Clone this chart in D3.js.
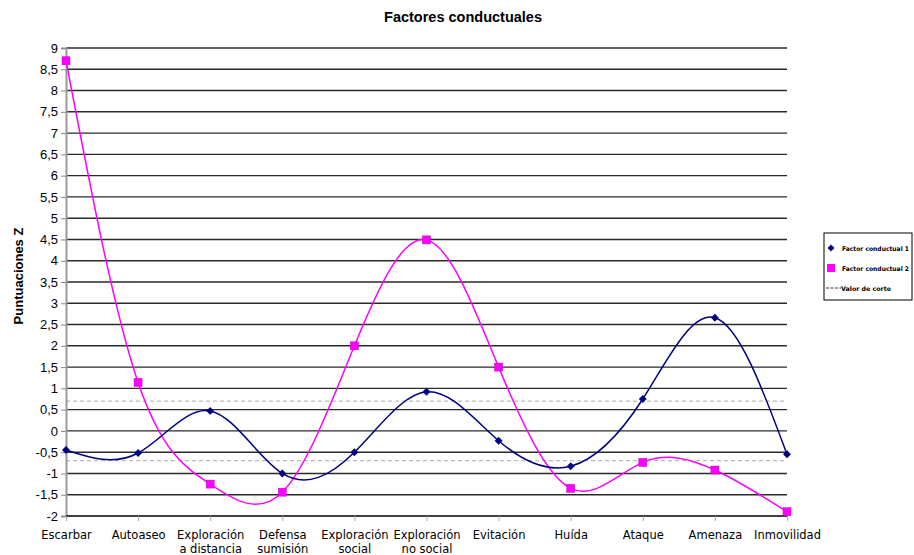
<!DOCTYPE html>
<html><head><meta charset="utf-8">
<script src="https://cdn.jsdelivr.net/npm/d3@7"></script>
<style>body{margin:0;background:#fff}svg{display:block}</style>
</head><body>
<svg id="c" width="914" height="555"></svg>
<script>
const categories = [["Escarbar"],["Autoaseo"],["Exploración","a distancia"],["Defensa","sumisión"],["Exploración","social"],["Exploración","no social"],["Evitación"],["Huída"],["Ataque"],["Amenaza"],["Inmovilidad"]];
const factor1 = [-0.45,-0.52,0.47,-1.0,-0.5,0.92,-0.23,-0.83,0.75,2.66,-0.55];
const factor2 = [8.7,1.14,-1.25,-1.44,2.0,4.49,1.5,-1.35,-0.74,-0.92,-1.9];
const cutoff = [0.7,-0.7];
const yTicks = d3.range(-2,9.01,0.5);
const seriesNames = ["Factor conductual 1","Factor conductual 2","Valor de corte"];

const svg = d3.select("#c");
const L=66,R=787,T=48,B=516;
const x = d3.scalePoint().domain(d3.range(categories.length)).range([L,R]);
const y = d3.scaleLinear().domain([-2,9]).range([B,T]);

// gridlines
svg.append("g").selectAll("line").data(yTicks.filter(v=>v>-2)).join("line")
  .attr("x1",L).attr("x2",R).attr("y1",d=>y(d)).attr("y2",d=>y(d))
  .attr("stroke","#2a2a2a").attr("stroke-width",1.4);
// cutoff
svg.append("g").selectAll("line").data(cutoff).join("line")
  .attr("x1",L).attr("x2",R).attr("y1",d=>y(d)).attr("y2",d=>y(d))
  .attr("stroke","#aaa").attr("stroke-width",1).attr("stroke-dasharray","4,3");

// y axis
const fmt = v => String(v).replace(".",",");
const ya = svg.append("g").attr("transform",`translate(${L},0)`)
  .call(d3.axisLeft(y).tickValues(yTicks).tickFormat(fmt).tickSize(5).tickPadding(3));
ya.select(".domain").attr("stroke","#999").attr("stroke-width",2);
ya.selectAll(".tick line").attr("stroke","#888");
ya.selectAll("text").attr("font-family","Liberation Sans, Arial").attr("font-size",13).attr("fill","#000");

// x axis
const xa = svg.append("g").attr("transform",`translate(0,${B})`)
  .call(d3.axisBottom(x).tickSize(5).tickFormat(""));
xa.select(".domain").attr("stroke","#000").attr("stroke-width",1.4).attr("d",`M${L},0H${R}`);
xa.selectAll(".tick line").attr("stroke","#aaa");
xa.selectAll(".tick").each(function(d){
  const t=d3.select(this).append("text").attr("fill","#000").attr("text-anchor","middle")
    .attr("font-family","DejaVu Sans").attr("font-size",11.5);
  categories[d].forEach((s,i)=>t.append("tspan").attr("x",0).attr("y",23+i*13.5).text(s));
});

// lines
const line = d3.line().x((d,i)=>x(i)).y(d=>y(d)).curve(d3.curveNatural);
svg.append("path").datum(factor2).attr("d",line).attr("fill","none").attr("stroke","#ff00ff").attr("stroke-width",1.5);
svg.append("path").datum(factor1).attr("d",line).attr("fill","none").attr("stroke","#000080").attr("stroke-width",1.5);

// markers
svg.append("g").selectAll("path").data(factor1).join("path")
  .attr("d",d3.symbol(d3.symbolDiamond2,40)())
  .attr("transform",(d,i)=>`translate(${x(i)},${y(d)})`).attr("fill","#000080");
svg.append("g").selectAll("rect").data(factor2).join("rect")
  .attr("x",(d,i)=>x(i)-4).attr("y",d=>y(d)-4).attr("width",8).attr("height",8)
  .attr("fill","#ff00ff").attr("stroke","#c000c0").attr("stroke-width",0.5);

// title
svg.append("text").attr("x",463).attr("y",22).attr("text-anchor","middle")
  .attr("font-family","Liberation Sans, Arial").attr("font-weight","bold").attr("font-size",14.5).text("Factores conductuales");
svg.append("text").attr("transform","translate(23,276) rotate(-90)").attr("text-anchor","middle")
  .attr("font-family","Liberation Sans, Arial").attr("font-weight","bold").attr("font-size",13).text("Puntuaciones Z");

// legend
const lg = svg.append("g");
lg.append("rect").attr("x",824).attr("y",233).attr("width",88).attr("height",67).attr("fill","#fff").attr("stroke","#000").attr("stroke-width",1);
lg.append("path").attr("d",d3.symbol(d3.symbolDiamond2,30)()).attr("transform","translate(831,248)").attr("fill","#000080");
lg.append("rect").attr("x",827).attr("y",264).attr("width",8).attr("height",8).attr("fill","#ff00ff");
lg.append("line").attr("x1",826).attr("x2",841).attr("y1",288).attr("y2",288).attr("stroke","#000").attr("stroke-width",0.8).attr("stroke-dasharray","3,1.5");
const ly=[248,268,288], lw=[67,67,50];
seriesNames.forEach((n,i)=>lg.append("text").attr("x",i==2?841:842).attr("y",ly[i]+2.5)
  .attr("font-family","DejaVu Sans").attr("font-size",6.4).attr("font-weight","bold").attr("fill","#000")
  .attr("textLength",lw[i]).attr("lengthAdjust","spacingAndGlyphs").text(n));
</script>
</body></html>
